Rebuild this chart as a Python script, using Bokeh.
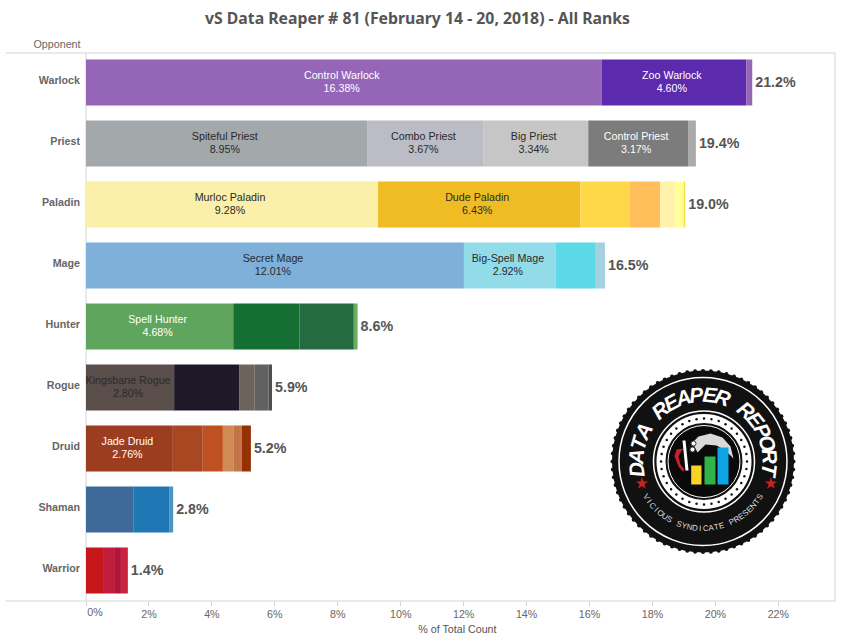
import math
from bokeh.plotting import figure
from bokeh.core.properties import value
from bokeh.models import Range1d, LinearAxis, FixedTicker
from bokeh.embed import file_html
from bokeh.resources import INLINE

classes = ["Warlock", "Priest", "Paladin", "Mage", "Hunter", "Rogue", "Druid", "Shaman", "Warrior"]
totals = ["21.2%", "19.4%", "19.0%", "16.5%", "8.6%", "5.9%", "5.2%", "2.8%", "1.4%"]

warlock = [16.38, 4.60, 0.19]
priest = [8.95, 3.67, 3.34, 3.17, 0.25]
paladin = [9.28, 6.43, 1.56, 0.98, 0.48, 0.26, 0.05]
mage = [12.01, 2.92, 1.27, 0.29]
hunter = [4.68, 2.10, 1.73, 0.12]
rogue = [2.80, 2.08, 0.48, 0.44, 0.11]
druid = [2.76, 0.95, 0.64, 0.35, 0.25, 0.29]
shaman = [1.50, 1.14, 0.13]
warrior = [0.57, 0.35, 0.19, 0.22]

# archetype names, empty when the slice has no label
warlock_names = ["Control Warlock", "Zoo Warlock", ""]
priest_names = ["Spiteful Priest", "Combo Priest", "Big Priest", "Control Priest", ""]
paladin_names = ["Murloc Paladin", "Dude Paladin", "", "", "", "", ""]
mage_names = ["Secret Mage", "Big-Spell Mage", "", ""]
hunter_names = ["Spell Hunter", "", "", ""]
rogue_names = ["Kingsbane Rogue", "", "", "", ""]
druid_names = ["Jade Druid", "", "", "", "", ""]
shaman_names = ["", "", ""]
warrior_names = ["", "", "", ""]

warlock_colors = ["#9566b8", "#5c2aad", "#9566b8"]
priest_colors = ["#a3a8aa", "#bcbcc6", "#c6c6c6", "#7c7c7c", "#ababab"]
paladin_colors = ["#fbf0a9", "#f0bc24", "#ffd84a", "#ffbe59", "#fff3ac", "#ffff96", "#ffd84a"]
mage_colors = ["#7fb0da", "#92dcea", "#5cd8e8", "#a5d2e0"]
hunter_colors = ["#5fa55d", "#156e32", "#256b42", "#67ae60"]
rogue_colors = ["#5a4e4a", "#1e1827", "#6e625c", "#616161", "#4f4f4f"]
druid_colors = ["#9c3d20", "#a94722", "#bf5021", "#d08a55", "#c47449", "#943206"]
shaman_colors = ["#3e6a99", "#1f78b4", "#4c94c4"]
warrior_colors = ["#c8171b", "#c01c3c", "#af1538", "#c92340"]

# labels in white on the dark slices
white_labels = ["Control Warlock", "Zoo Warlock", "Control Priest", "Spell Hunter", "Jade Druid"]

tick_values = [0, 2, 4, 6, 8, 10, 12, 14, 16, 18, 20, 22]
tick_labels = ["0%", "2%", "4%", "6%", "8%", "10%", "12%", "14%", "16%", "18%", "20%", "22%"]

all_values = [warlock, priest, paladin, mage, hunter, rogue, druid, shaman, warrior]
all_names = [warlock_names, priest_names, paladin_names, mage_names, hunter_names,
             rogue_names, druid_names, shaman_names, warrior_names]
all_colors = [warlock_colors, priest_colors, paladin_colors, mage_colors, hunter_colors,
              rogue_colors, druid_colors, shaman_colors, warrior_colors]

FONT = "Liberation Sans"
LINE = "#d4d4d4"
W, H = 840, 633

# the frame fills the whole canvas so that the lines and texts left of and
# under the axes can be drawn as glyphs: 0% sits at pixel 85.5, rows start at 51.5
PX_PER_PCT = 31.47
PX_PER_ROW = 61
X0, Y0 = 85.5, 51.5

rows = [i + 0.5 for i in range(len(classes))]
# axis labels sit a little above the bar centres
label_rows = [r - 2.5 / PX_PER_ROW for r in rows]

p = figure(width=W, height=H, output_backend="svg", toolbar_location=None,
           x_range=Range1d(-X0 / PX_PER_PCT, (W - X0) / PX_PER_PCT),
           y_range=Range1d((H - Y0) / PX_PER_ROW, -Y0 / PX_PER_ROW),
           x_axis_location=None, y_axis_location=None, min_border=0)

p.grid.grid_line_color = None
p.outline_line_color = None
p.background_fill_color = "white"

# page pixel coordinates for the furniture and the logo
p.extra_x_ranges["px"] = Range1d(0, W)
p.extra_y_ranges["px"] = Range1d(H, 0)

def px(**kw):
    return dict(x_range_name="px", y_range_name="px", **kw)

def note(x, y, text, **kw):
    style = dict(text_font=value(FONT), text_font_size="10.7px", text_color="#666666",
                 text_align="center", text_baseline="middle")
    style.update(kw)
    p.text(x=[x], y=[y], text=[text], **style, **px())

# frame lines, with the stubs left of the axis
p.segment(x0=[5, 5, 834.5, 85.5], y0=[52.5, 600.5, 52.5, 52.5], x1=[834.5, 834.5, 834.5, 85.5], y1=[52.5, 600.5, 600.5, 600.5],
          line_color=LINE, line_width=1, **px())

xaxis = LinearAxis(ticker=FixedTicker(ticks=tick_values), fixed_location=len(classes) - 0.5 / PX_PER_ROW + 1 / PX_PER_ROW)
xaxis.major_label_overrides = {v: (l if v != 0 else "") for v, l in zip(tick_values, tick_labels)}
xaxis.major_label_text_font = FONT
xaxis.major_label_text_font_size = "10.7px"
xaxis.major_label_text_color = "#666666"
xaxis.major_label_standoff = 1
xaxis.axis_line_color = None
xaxis.major_tick_line_color = LINE
xaxis.major_tick_out = 5
xaxis.major_tick_in = 0
xaxis.minor_tick_line_color = None
p.add_layout(xaxis, "below")

yaxis = LinearAxis(ticker=FixedTicker(ticks=label_rows), fixed_location=0, bounds=(0, len(classes)))
yaxis.major_label_overrides = dict(zip(label_rows, classes))
yaxis.major_label_text_font = FONT
yaxis.major_label_text_font_size = "10.7px"
yaxis.major_label_text_font_style = "bold"
yaxis.major_label_text_color = "#666666"
yaxis.major_label_standoff = 6
yaxis.axis_line_color = None
yaxis.major_tick_line_color = None
yaxis.major_tick_out = 0
yaxis.major_tick_in = 0
yaxis.minor_tick_line_color = None
p.add_layout(yaxis, "left")

# stacked slices
for row, values, names, colors, total in zip(rows, all_values, all_names, all_colors, totals):
    left = 0
    lefts, rights = [], []
    for v in values:
        lefts.append(left)
        left += v
        rights.append(left)
    p.hbar(y=[row] * len(values), left=lefts, right=rights, height=0.755,
           fill_color=colors, line_color=None)
    for name, v, a, b in zip(names, values, lefts, rights):
        if name:
            p.text(x=[(a + b) / 2], y=[row], text=[f"{name}\n{v:.2f}%"], x_offset=-2, y_offset=-1,
                   text_align="center", text_baseline="middle", text_font=value(FONT),
                   text_font_size="10.7px", text_line_height=1.12,
                   text_color="white" if name in white_labels else "#2a2a2a")
    p.text(x=[left], y=[row], text=[total], x_offset=3, y_offset=-1, text_align="left",
           text_baseline="middle", text_font=value(FONT), text_font_size="14.3px",
           text_font_style="bold", text_color="#555555")

note(417, 17.5, "vS Data Reaper # 81 (February 14 - 20, 2018) - All Ranks", text_font=value("Noto Sans"),
     text_font_size="15.8px", text_font_style="bold", text_color="#555555")
note(80, 43.5, "Opponent", text_align="right")
note(94.5, 611.5, tick_labels[0])
note(457, 628, "% of Total Count", text_color="#555555")

# logo, drawn in page pixels
CX, CY = 702.5, 461

ring = [2 * math.pi * i / 72 for i in range(72)]
p.scatter(x=[CX + 90.5 * math.cos(a) for a in ring], y=[CY + 90.5 * math.sin(a) for a in ring],
          size=4, fill_color="#111111", line_color=None, **px())
p.circle(x=[CX], y=[CY], radius=91, radius_units="screen", fill_color="#111111", line_color=None, **px())
p.circle(x=[CX], y=[CY], radius=84, radius_units="screen", fill_color=None, line_color="white", line_width=1.5, **px())
p.circle(x=[CX + 1], y=[CY], radius=50.5, radius_units="screen", fill_color="#111111", line_color="white", line_width=1.5, **px())
p.circle(x=[CX + 1], y=[CY], radius=43, radius_units="screen", fill_color=None, line_color="white", line_width=9, **px())
dots = [2 * math.pi * i / 36 for i in range(36)]
p.scatter(x=[CX + 1 + 43 * math.cos(a) for a in dots], y=[CY + 43 * math.sin(a) for a in dots],
          size=2.5, fill_color="#111111", line_color=None, **px())
p.circle(x=[CX + 1], y=[CY], radius=36, radius_units="screen", fill_color="#0a0a0a", line_color="white", line_width=1, **px())

# scythe, skull, hood
p.patch(x=[692, 698, 710, 722, 730, 733, 725, 716, 705, 697], y=[442, 436, 433, 437, 446, 458, 450, 445, 444, 452],
        fill_color="#d9d9d9", line_color=None, **px())
p.patch(x=[676, 674, 678, 682, 684, 680, 678, 681, 684], y=[449, 456, 466, 471, 469, 464, 456, 450, 448],
        fill_color="#c8202c", line_color=None, **px())
p.patch(x=[682, 685, 688, 685], y=[440, 440, 470, 470], fill_color="white", line_color=None, **px())
p.scatter(x=[693, 692], y=[443, 449], size=5, fill_color="white", line_color="#333333", line_width=1, **px())

p.quad(left=[690.7, 704, 717], right=[701, 715, 728], top=[465, 456, 447], bottom=[484, 484, 484],
       fill_color=["#f7d426", "#2fb34a", "#0ba5e6"], line_color=None, **px())
p.scatter(x=[641.5, 770.5], y=[483, 483], marker="star", size=13, fill_color="#d0211c", line_color=None, **px())

top_text = "DATA REAPER REPORT"
spread = math.radians(97)
for i, ch in enumerate(top_text):
    a = -spread + 2 * spread * i / (len(top_text) - 1)
    p.text(x=[CX + 67 * math.sin(a)], y=[CY - 67 * math.cos(a)], text=[ch], angle=[-a],
           text_align="center", text_baseline="middle", text_font=value(FONT),
           text_font_style="bold italic", text_font_size="21px", text_color="white", **px())

bottom_text = "VICIOUS SYNDICATE PRESENTS"
spread = math.radians(58)
for i, ch in enumerate(bottom_text):
    a = -spread + 2 * spread * i / (len(bottom_text) - 1)
    p.text(x=[CX + 67 * math.sin(a)], y=[CY + 67 * math.cos(a)], text=[ch], angle=[a],
           text_align="center", text_baseline="middle", text_font=value(FONT),
           text_font_size="8px", text_color="#dddddd", **px())

open("out.html", "w").write(file_html(p, INLINE))
